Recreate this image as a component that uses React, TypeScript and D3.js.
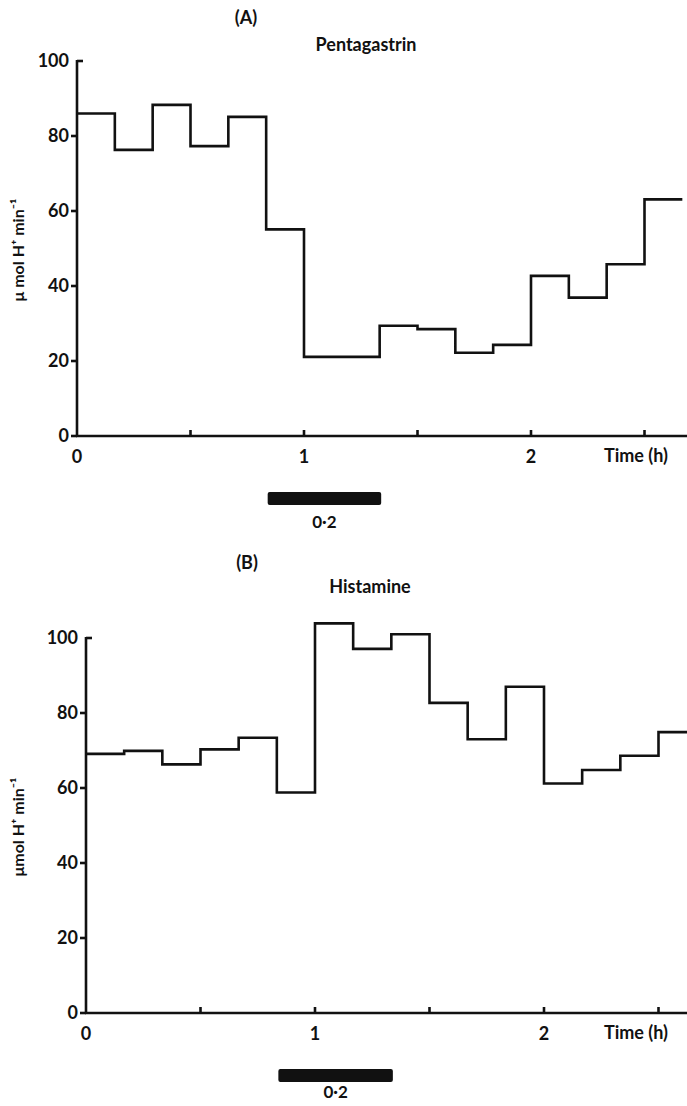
import { useMemo } from 'react';
import * as d3 from 'd3';

// collection periods, minutes from start (10-min samples)
const periodStartMin = [0, 10, 20, 30, 40, 50, 60, 70, 80, 90, 100, 110, 120, 130, 140, 150];
const periodEndMin = 160;

// acid output, umol H+ per min
const pentagastrinValues = [86, 76.3, 88.3, 77.3, 85.1, 55.1, 21.1, 21.1, 29.4, 28.5, 22.2, 24.3, 42.7, 36.9, 45.8, 63.1];
const histamineValues = [69.1, 69.9, 66.3, 70.3, 73.4, 58.8, 103.9, 97.1, 101, 82.7, 73, 87, 61.2, 64.8, 68.6, 74.9];

const yTicks = [0, 20, 40, 60, 80, 100];
const xTicks = [0, 0.5, 1, 1.5, 2, 2.5];
const xTickLabels = ['0', '', '1', '', '2', ''];

// infusion bar (h) and its dose label
const infusionStartH = 0.84;
const infusionEndH = 1.34;
const doseLabel = '0·2';

const FONT = 'Lato, "Open Sans", sans-serif';

type PanelProps = {
  top: number;
  x0: number;
  pxPerHour: number;
  letter: string;
  title: string;
  yLabel: string;
  values: number[];
  letterX: number;
  letterY: number;
  titleX: number;
  titleY: number;
  doseDy: number;
};

function Panel(p: PanelProps) {
  const { top, x0, pxPerHour, values } = p;
  const y0 = top + 436;
  const y100 = top + 61;

  const x = d3.scaleLinear().domain([0, 3]).range([x0, x0 + 3 * pxPerHour]);
  const y = d3.scaleLinear().domain([0, 100]).range([y0, y100]);

  const path = useMemo(() => {
    const pts: [number, number][] = periodStartMin.map((m, i) => [m / 60, values[i]]);
    pts.push([periodEndMin / 60, values[values.length - 1]]);
    const line = d3
      .line<[number, number]>()
      .x((d) => x(d[0]))
      .y((d) => y(d[1]))
      .curve(d3.curveStepAfter);
    return line(pts) || '';
  }, [values, x0, pxPerHour, top]);

  const sw = 2.6;

  return (
    <g fontFamily={FONT} fontWeight={700} fill="#111">
      <text x={p.letterX} y={p.letterY} fontSize={18} textAnchor="middle">{p.letter}</text>
      <text x={p.titleX} y={p.titleY} fontSize={18} textAnchor="middle">{p.title}</text>

      {/* y axis */}
      <line x1={x0} x2={x0} y1={y100 - 1} y2={y0 + 1} stroke="#111" strokeWidth={sw} />
      {yTicks.map((t) => (
        <g key={t}>
          {t === 100 ? (
            <line x1={x0} x2={x0 + 6} y1={y(t)} y2={y(t)} stroke="#111" strokeWidth={sw} />
          ) : (
            <line x1={x0 - 6} x2={x0} y1={y(t)} y2={y(t)} stroke="#111" strokeWidth={sw} />
          )}
          <text x={x0 - 8} y={y(t)} dy="0.36em" fontSize={18} textAnchor="end">{t}</text>
        </g>
      ))}

      {/* x axis */}
      <line x1={x0 - 1} x2={687} y1={y0} y2={y0} stroke="#111" strokeWidth={sw} />
      {xTicks.map((t, i) => (
        <g key={t}>
          {t > 0 && <line x1={x(t)} x2={x(t)} y1={y0} y2={y0 - 6} stroke="#111" strokeWidth={sw} />}
          {xTickLabels[i] && (
            <text x={x(t)} y={y0 + 27} fontSize={18} textAnchor="middle">{xTickLabels[i]}</text>
          )}
        </g>
      ))}
      <text x={636} y={y0 + 26} fontSize={18} textAnchor="middle">Time (h)</text>

      {/* y label */}
      <text
        transform={`translate(${18},${top + 250}) rotate(-90)`}
        fontSize={16}
        fontWeight={700}
        textAnchor="middle"
        dy="0.35em"
      >
        {p.yLabel}
      </text>

      {/* step trace */}
      <path d={path} fill="none" stroke="#111" strokeWidth={sw} strokeLinejoin="miter" />

      {/* infusion bar */}
      <rect
        x={x(infusionStartH)}
        y={y0 + 56}
        width={x(infusionEndH) - x(infusionStartH)}
        height={13}
        rx={2}
        fill="#111"
      />
      <text x={(x(infusionStartH) + x(infusionEndH)) / 2} y={y0 + p.doseDy} fontSize={17} textAnchor="middle">
        {doseLabel}
      </text>
    </g>
  );
}

export default function App() {
  return (
    <div style={{ position: 'absolute', left: 0, top: 0 }}>
      <svg width={687} height={1106} style={{ display: 'block', background: '#fff' }}>
        <Panel
          top={0}
          x0={77}
          pxPerHour={227}
          letter="(A)"
          title="Pentagastrin"
          yLabel="μ mol H⁺ min⁻¹"
          values={pentagastrinValues}
          letterX={246}
          letterY={24}
          titleX={366}
          titleY={51}
          doseDy={92}
        />
        <Panel
          top={577}
          x0={86}
          pxPerHour={229}
          letter="(B)"
          title="Histamine"
          yLabel="μmol H⁺ min⁻¹"
          values={histamineValues}
          letterX={247}
          letterY={569}
          titleX={370}
          titleY={593}
          doseDy={85}
        />
      </svg>
    </div>
  );
}
